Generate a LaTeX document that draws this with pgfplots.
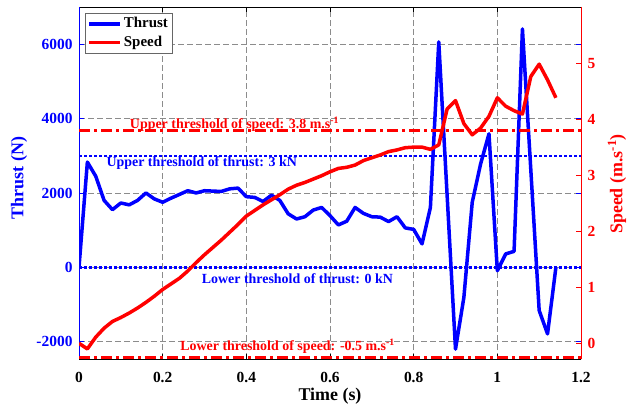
\documentclass[border=0pt]{standalone}
\usepackage{fontspec}
\setmainfont{Liberation Serif}
\usepackage{pgfplots}
\pgfplotsset{compat=1.18}

\definecolor{thr}{RGB}{0,0,255}
\definecolor{spd}{RGB}{255,0,0}

\newcommand{\labfont}{\fontsize{18}{21}\selectfont\bfseries}
\newcommand{\notefont}{\fontsize{14}{16}\selectfont\bfseries}

\pgfplotsset{
  common/.style={
    scale only axis, width=502bp, height=352bp,
    xmin=0, xmax=1.2,
    tick align=inside, major tick length=5bp,
    /pgf/number format/assume math mode=true,
    /pgf/number format/1000 sep={},
    scaled ticks=false,
    ticklabel style={font=\fontsize{15.5}{18}\selectfont\bfseries, inner sep=0pt},
  },
}

\begin{document}
\begin{tikzpicture}
\path[use as bounding box] (-79bp,-48bp) rectangle (560bp,359bp);

% left axis: thrust
\begin{axis}[common,
  separate axis lines,
  axis x line=box, axis y line=box,
  x axis line style={black, line width=0.8bp},
  y axis line style={thr, line width=0.8bp},
  ymin=-2465, ymax=7000,
  xtick={0,0.2,0.4,0.6,0.8,1,1.2},
  ytick={-2000,0,2000,4000,6000},
  grid=major,
  major grid style={dash pattern=on 6bp off 3bp, color=black!45, line width=0.6bp},
  x tick style={black, line width=0.6bp},
  y tick style={thr, line width=0.6bp},
  xticklabel style={anchor=north, yshift=-12.7bp},
  yticklabel style={anchor=east, xshift=-6.3bp, text=thr},
  xlabel={Time (s)}, ylabel={Thrust (N)},
  xlabel style={at={(axis description cs:0.5,-0.106)}, anchor=center,
    font=\labfont, inner sep=0pt},
  ylabel style={at={(axis description cs:-0.1195,0.514)}, anchor=center,
    font=\labfont, inner sep=0pt, text=thr},
]
\addplot[thr, line width=2.5bp, dash pattern=on 2.5bp off 2.5bp, forget plot]
  coordinates {(0,3000) (1.2,3000)};
\addplot[thr, line width=2.5bp, dash pattern=on 2.5bp off 2.5bp, forget plot]
  coordinates {(0,0) (1.2,0)};
\addplot[thr, line width=3.5bp, line join=round] coordinates {
(0,0) (0.02,2830) (0.04,2450) (0.06,1800) (0.08,1550) (0.10,1730) (0.12,1680)
(0.14,1800) (0.16,2000) (0.18,1840) (0.20,1750) (0.22,1860) (0.24,1960)
(0.26,2060) (0.28,2000) (0.30,2060) (0.32,2050) (0.34,2040) (0.36,2110)
(0.38,2130) (0.40,1900) (0.42,1880) (0.44,1770) (0.46,1940) (0.48,1800)
(0.50,1440) (0.52,1300) (0.54,1360) (0.56,1540) (0.58,1610) (0.60,1390)
(0.62,1140) (0.64,1240) (0.66,1610) (0.68,1450) (0.70,1360) (0.72,1350)
(0.74,1230) (0.76,1360) (0.78,1060) (0.80,1020) (0.82,630) (0.84,1610)
(0.86,6060) (0.88,1930) (0.90,-2200) (0.92,-810) (0.94,1750) (0.96,2780)
(0.98,3590) (1.00,-90) (1.02,360) (1.04,430) (1.06,6410) (1.08,2625)
(1.10,-1160) (1.12,-1790) (1.14,0)
};
\node[font=\notefont, text=spd, anchor=base, inner sep=0pt]
  at (axis cs:0.3717,3739) {Upper threshold of speed: 3.8 m.s\textsuperscript{-1}};
\node[font=\notefont, text=thr, anchor=base, inner sep=0pt]
  at (axis cs:0.2933,2717) {Upper threshold of thrust: 3 kN};
\node[font=\notefont, text=thr, anchor=base, inner sep=0pt]
  at (axis cs:0.522,-430) {Lower threshold of thrust: 0 kN};
\node[font=\notefont, text=spd, anchor=base, inner sep=0pt]
  at (axis cs:0.4985,-2249) {Lower threshold of speed: -0.5 m.s\textsuperscript{-1}};
\end{axis}

% right axis: speed
\begin{axis}[common,
  axis x line=none, axis y line*=right,
  y axis line style={spd, line width=0.8bp},
  ymin=-0.28, ymax=6,
  ytick={0,1,2,3,4,5},
  y tick style={spd, line width=0.6bp},
  yticklabel style={anchor=west, xshift=6.3bp, text=spd},
  ylabel={Speed (m.s\textsuperscript{-1})},
  ylabel style={at={(axis description cs:1.0717,0.497)}, anchor=center,
    font=\labfont, inner sep=0pt, text=spd},
  legend cell align=left,
  legend image code/.code={\draw[#1] (0bp,0bp) -- (31bp,0bp);},
  legend style={at={(axis description cs:0.012,0.984)}, anchor=north west,
    draw=black!60, line width=0.8bp, fill=white,
    font=\fontsize{15}{17}\selectfont\bfseries,
    inner xsep=2bp, inner ysep=1.5bp, row sep=0bp,
    nodes={inner ysep=2bp, text height=11bp, text depth=3.5bp}},
]
\addplot[spd, line width=2.5bp, dash pattern=on 11bp off 4bp on 3bp off 4bp, forget plot]
  coordinates {(0,3.8) (1.2,3.8)};
\addplot[spd, line width=2.5bp, dash pattern=on 11bp off 4bp on 3bp off 4bp, forget plot]
  coordinates {(0,-0.25) (1.2,-0.25)};
\addlegendimage{thr, line width=3.5bp}
\addlegendentry{Thrust}
\addplot[spd, line width=3.5bp, line join=round] coordinates {
(0,0.00) (0.02,-0.10) (0.04,0.11) (0.06,0.27) (0.08,0.39) (0.10,0.46)
(0.12,0.54) (0.14,0.63) (0.16,0.73) (0.18,0.84) (0.20,0.96) (0.22,1.06)
(0.24,1.16) (0.26,1.29) (0.28,1.44) (0.30,1.58) (0.32,1.71) (0.34,1.84)
(0.36,1.98) (0.38,2.12) (0.40,2.27) (0.42,2.37) (0.44,2.47) (0.46,2.56)
(0.48,2.65) (0.50,2.75) (0.52,2.82) (0.54,2.87) (0.56,2.93) (0.58,2.99)
(0.60,3.06) (0.62,3.12) (0.64,3.14) (0.66,3.18) (0.68,3.26) (0.70,3.31)
(0.72,3.36) (0.74,3.42) (0.76,3.45) (0.78,3.49) (0.80,3.50) (0.82,3.50)
(0.84,3.46) (0.86,3.54) (0.88,4.18) (0.90,4.33) (0.92,3.92) (0.94,3.72)
(0.96,3.84) (0.98,4.05) (1.00,4.38) (1.02,4.23) (1.04,4.15) (1.06,4.09)
(1.08,4.76) (1.10,4.98) (1.12,4.70) (1.14,4.38)
};
\addlegendentry{Speed}
\end{axis}
\end{tikzpicture}
\end{document}
